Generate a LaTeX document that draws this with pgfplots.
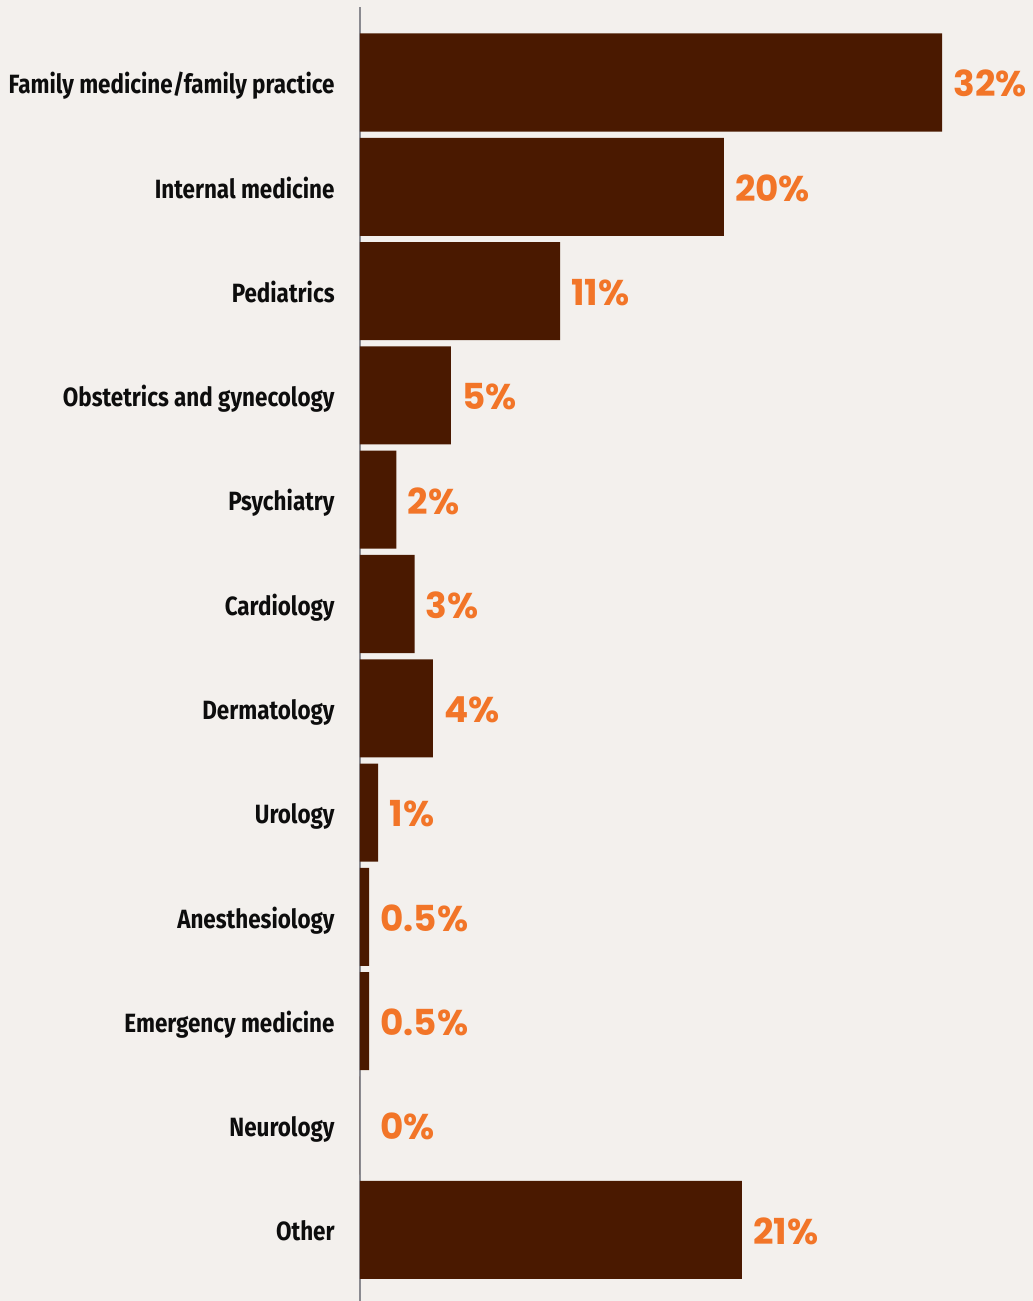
\documentclass[border=0pt]{standalone}
\usepackage{pgfplots}
\pgfplotsset{compat=1.18}
\usepackage{fontspec}
\newfontfamily\catfont{Fira Sans}[FakeStretch=0.85]
\newfontfamily\valfont{Poppins}
\definecolor{bgc}{RGB}{243,240,237}
\definecolor{barc}{RGB}{74,25,0}
\definecolor{valc}{RGB}{242,117,40}
\definecolor{axc}{RGB}{138,138,144}
\begin{document}
\begin{tikzpicture}
\fill[bgc] (0,0) rectangle (516.5pt,650.5pt);
\begin{axis}[
  at={(180pt,0pt)}, anchor=south west,
  scale only axis, width=336.5pt, height=647pt,
  xmin=0, xmax=37.0,
  y dir=reverse, ymin=-0.724, ymax=11.683,
  hide x axis,
  axis y line=left,
  y axis line style={-, draw=axc, line width=1.3pt},
  ytick={0,...,11},
  major tick length=0pt,
  yticklabels={Family medicine/family practice, Internal medicine, Pediatrics, Obstetrics and gynecology, Psychiatry, Cardiology, Dermatology, Urology, Anesthesiology, Emergency medicine, Neurology, Other},
  yticklabel style={font=\catfont\bfseries\fontsize{13.2}{15}\selectfont, text=black!95, anchor=base east, inner sep=0pt, xshift=-12.5pt, yshift=-5.6pt},
  xbar, bar width=0.94, bar shift=0pt,
  clip=false,
  point meta=explicit symbolic,
  visualization depends on={rawx \as \rawx},
  nodes near coords,
  every node near coord/.append style={font=\valfont\bfseries\fontsize{17.9}{20}\selectfont, text=valc, anchor=west, inner sep=0pt, xshift={(5.5+4.5*(\rawx==0))*1pt}, yshift=-0.6pt},
]
\addplot[draw=none, fill=barc] coordinates {
  (32,0) [32\%]
  (20,1) [20\%]
  (11,2) [11\%]
  (5,3) [5\%]
  (2,4) [2\%]
  (3,5) [3\%]
  (4,6) [4\%]
  (1,7) [1\%]
  (0.5,8) [0.5\%]
  (0.5,9) [0.5\%]
  (0,10) [0\%]
  (21,11) [21\%]
};
\end{axis}
\pgfresetboundingbox
\path (0,0) rectangle (516.5pt,650.5pt);
\end{tikzpicture}
\end{document}
